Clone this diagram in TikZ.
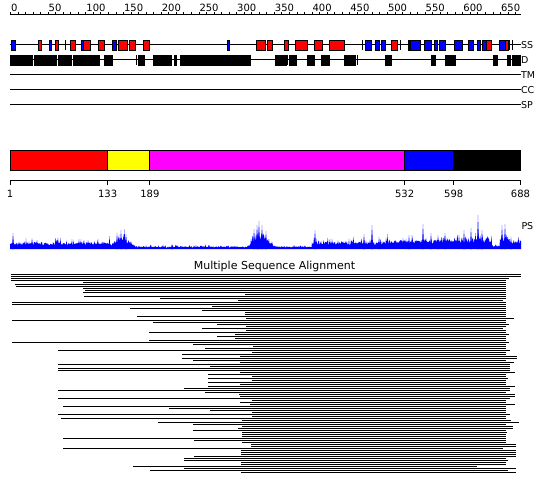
\documentclass[tikz,border=0pt]{standalone}
\usepackage{fontspec}
\newfontfamily\lblfont{DejaVu Sans}
\definecolor{fred}{RGB}{255,0,0}
\definecolor{fblue}{RGB}{0,0,255}
\definecolor{fyellow}{RGB}{255,255,0}
\definecolor{fmag}{RGB}{255,0,255}
\begin{document}
\begin{tikzpicture}[x=1pt,y=-1pt,line width=1pt,
  declare function={env(\t)=(\t<110)*7.5+(\t>109.9)*(\t<312)*2.8+(\t>311.9)*(\t<383)*8
    +(\t>382.9)*(\t<455)*10+(\t>454.9)*(\t<492)*12+(\t>491.9)*(\t<500)*3.5
    +(\t>499.9)*(\t<510)*14+(\t>509.9)*9
    +13*max(0,1-abs(\t-122)/14)+17*max(0,1-abs(\t-261)/14);},
  lbl/.style={font=\lblfont\fontsize{9.5}{9.5}\selectfont,inner sep=0pt},
  numlbl/.style={font=\lblfont\fontsize{10}{10}\selectfont,inner sep=0pt},
  ttl/.style={font=\lblfont\fontsize{11}{11}\selectfont,inner sep=0pt},
  ssred/.style={fill=fred,draw=black,line width=0.8pt},
  ssblue/.style={fill=fblue,draw=black,line width=0.8pt},
  dbox/.style={fill=black,draw=black,line width=0.8pt},
  thinbar/.style={line width=0.9pt},
  dombox/.style={draw=black,line width=1pt},
  aln/.style={line width=1.05pt}]
\useasboundingbox[fill=white] (0,0) rectangle (550,495);

% top ruler
\draw (10,15) -- (521,15);
\foreach \r in {0,10,...,670} \draw ({10.5+\r*0.754},15) -- ++(0,-3);
\foreach \r in {0,50,...,650}
  \node[numlbl,anchor=base west] (r\r) at ({10.5+\r*0.754},11.5) {\r};

% feature rows
\foreach \y/\n in {45/SS,60/D,75/TM,90/CC,105/SP}
  \draw (10,\y) -- (520.5,\y);
\foreach \a/\b in {38.3/41.7,55.3/58.7,70.3/75.7,83.7/90.3,98.3/104.3,118.3/127.7,129/135.7,
  143.3/149.3,256/265.7,267.3/272.7,284.3/288.3,295/307.3,314.3/322.3,329.3/344.3,391.3/397.3,
  408/409.6,486.7/491.7,505/508.3}
  \draw[ssred] (\a,40.5) rectangle (\b,50);
\foreach \a/\b in {11/15.7,49/51.7,81.3/83.7,112/116.3,227/229.7,365/371.7,375.3/379.3,381/385,
  410.7/420.7,424.3/431.3,434.3/437.7,439/445.7,454.3/462.7,468.7/473.3,477.3/480.7,482.3/486.7,
  499.3/505}
  \draw[ssblue] (\a,40.5) rectangle (\b,50);
\foreach \a in {65,362.3,400,509.5,512.3}
  \draw[thinbar] (\a,40.5) -- (\a,50);
\foreach \a/\b in {10/12.7,13.5/32.7,34/56.7,57.9/71.7,72.9/85.3,86.7/99,104/112.7,137.9/144,
  153/171.7,174/176.7,180.7/250,275/286.7,289/296.7,307.3/314.3,321.7/329,344/355,385/391.7,
  431/435,445.7/449,450.7/455,493.3/497.3,507.3/510,512.7/520.7}
  \draw[dbox] (\a,55.5) rectangle (\b,65);
\foreach \a in {136.5,287.9,357}
  \draw[thinbar] (\a,55.5) -- (\a,65);
\foreach \y/\n in {45/SS,60/D,75/TM,90/CC,105/SP}
  \node[lbl,anchor=west] (l\n) at (520.5,\y) {\n};

% domain bar
\draw[dombox,fill=fred] (10,150.5) rectangle (107.6,170.5);
\draw[dombox,fill=fyellow] (107.6,150.5) rectangle (149.9,170.5);
\draw[dombox,fill=fmag] (149.9,150.5) rectangle (404.6,170.5);
\draw[dombox,fill=fblue] (404.6,150.5) rectangle (453.7,170.5);
\draw[dombox,fill=black] (453.7,150.5) rectangle (520.5,170.5);
\draw (10,180.5) -- (520.5,180.5);
\foreach \p/\v in {10/1,107.6/133,149.9/189,404.6/532,453.7/598,520.5/688}{
  \draw (\p,180.5) -- (\p,185);
  \node[numlbl,anchor=north] (t\v) at (\p,190) {\v};
}

% PS profile
\pgfmathsetseed{11}
\fill[fblue] (10,249) \foreach \x in {10,10.5,...,521}{ -- (\x,{249-env(\x)*(0.5+0.4*rnd+0.7*rnd^6)}) } -- (521,249) -- cycle;
\foreach \px/\ph in {13/16,117/16,121/19,126/15,172/5,254/20,257/24,259/28,262/24,266/18,
  315/19,364/15,372/24,379/12,409/14,423/25,431/16,438/14,445/16,464/19,471/21,478/34,
  482/19,502/24,505/25,511/12}
  \fill[fblue] ({\px-1.2},249) -- (\px,{249-\ph}) -- ({\px+1.2},249) -- cycle;
\draw[fblue] (10,248.8) -- (521,248.8);
\node[lbl,anchor=west] (ps) at (521,226) {PS};

% multiple sequence alignment
\node[ttl] (msa) at (274.5,266) {Multiple Sequence Alignment};
\foreach \s/\e [count=\i] in {10.5/521,10.5/521,11/509,10.5/506,83/506,15/506,16/506,83/506,
  85/506,83/506,245/506,84/506,160/506,238/503,12/506,12/506,212/506,130/506,202/506,245/506,
  245/506,137/506,246/514,12/506,153/506,217/509,246/506,202/503,246/506,149/506,235/509,
  217/506,235/506,149/506,12/509,193/506,253/506,205/506,58/510,252/506,182/506,240/517,
  182/517,193/506,240/514,58/510,210/510,58/510,58/510,240/515,208/506,252/506,208/508,
  252/506,208/506,240/506,208/515,184/510,58/510,205/506,239/515,240/515,58/510,252/506,
  240/506,250/515,63/506,169/506,210/506,252/506,58/510,252/506,61/506,242/511,158/519,
  193/506,242/513,238/513,193/506,242/507,242/506,242/506,63/506,194/506,242/506,251/516,
  251/516,63/503,241/516,241/516,241/516,194/516,184/506,184/508,241/506,241/506,133/477,
  184/516,150/508,241/516}
  \draw[aln] (\s,{272.5+2*\i}) -- (\e,{272.5+2*\i});
\end{tikzpicture}
\end{document}
